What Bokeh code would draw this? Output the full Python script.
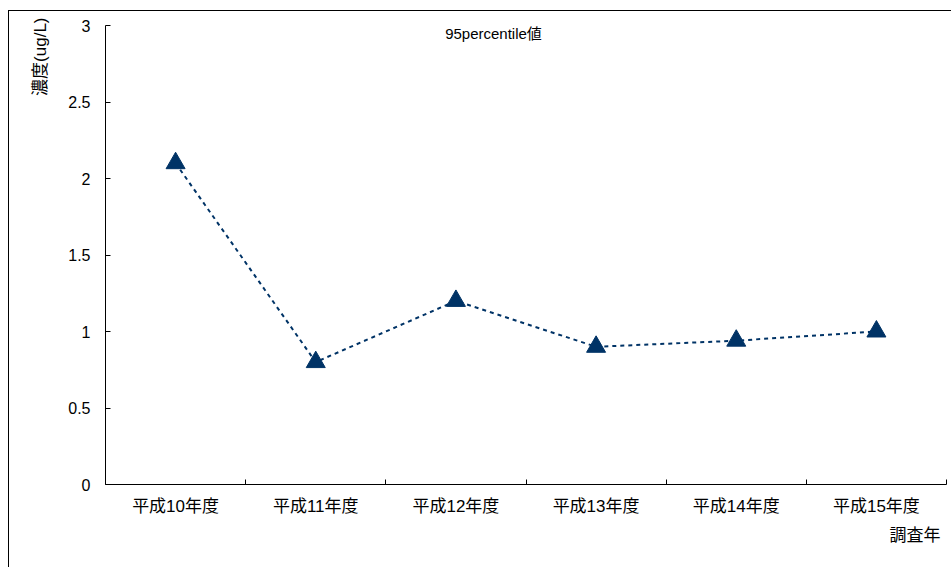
from bokeh.plotting import figure
from bokeh.models import Range1d, FixedTicker, Label, Title
from bokeh.embed import file_html
from bokeh.resources import INLINE

categories = ["平成10年度", "平成11年度", "平成12年度", "平成13年度", "平成14年度", "平成15年度"]
values = [2.1, 0.8, 1.2, 0.9, 0.94, 1.0]
y_ticks = [0, 0.5, 1, 1.5, 2, 2.5, 3]
y_tick_labels = ["0", "0.5", "1", "1.5", "2", "2.5", "3"]
title_text = "95percentile値"
y_label = "濃度(ug/L)"
x_label = "調査年"

COLOR = "#003366"
LAT = "'Liberation Sans', 'Noto Sans CJK JP'"

OX, OY = 9, 11  # outer frame offset (margin + border)
W, H = 952 - OX, 568 - OY
L, R, T, B = 105 - OX, 6, 25 - OY, 84

n = len(categories)
xs = [i + 0.5 for i in range(n)]

p = figure(width=W, height=H, output_backend="svg", toolbar_location=None,
           x_range=Range1d(0, n), y_range=Range1d(0, 3),
           min_border_left=L, min_border_right=R, min_border_top=T, min_border_bottom=B)
p.margin = (10, 0, 0, 8)
p.styles = {"border-top": "1px solid black", "border-left": "1px solid black"}
p.outline_line_color = None
p.xgrid.grid_line_color = None
p.ygrid.grid_line_color = None
p.background_fill_color = "white"
p.border_fill_color = "white"

# x axis: labels at category centres, ticks at boundaries
p.xaxis.ticker = FixedTicker(ticks=xs, minor_ticks=list(range(n + 1)))
p.xaxis.major_label_overrides = {x: c for x, c in zip(xs, categories)}
p.xaxis.major_tick_in = 0
p.xaxis.major_tick_out = 0
p.xaxis.minor_tick_in = 5
p.xaxis.minor_tick_out = 0
p.xaxis.minor_tick_line_color = "black"
p.xaxis.axis_line_color = "black"
p.xaxis.major_label_text_font = LAT
p.xaxis.major_label_text_font_size = "17px"
p.xaxis.major_label_text_color = "black"
p.xaxis.major_label_standoff = 12

p.yaxis.ticker = FixedTicker(ticks=y_ticks, minor_ticks=[])
p.yaxis.major_label_overrides = {t: s for t, s in zip(y_ticks, y_tick_labels)}
p.yaxis.major_tick_in = 5
p.yaxis.major_tick_out = 0
p.yaxis.major_tick_line_color = "black"
p.yaxis.axis_line_color = "black"
p.yaxis.major_label_text_font = LAT
p.yaxis.major_label_text_font_size = "16px"
p.yaxis.major_label_text_color = "black"
p.yaxis.major_label_standoff = 15

p.line(xs, values, line_color=COLOR, line_width=2, line_dash="4 4")
p.scatter(xs, values, marker="triangle", size=19, fill_color=COLOR, line_color=COLOR)

fw = W - L - R
fh = H - T - B
def dx(px):
    return (px - OX - L) / fw * n
def dy(py):
    return (H - B - (py - OY)) / fh * 3

p.add_layout(Label(x=dx(493), y=dy(33), text=title_text, text_align="center",
                   text_baseline="middle", text_font=LAT, text_font_size="15px",
                   text_color="black"))

p.add_layout(Title(text=y_label, align="right", text_font=LAT, text_font_size="17px",
                   text_font_style="normal", text_color="black", standoff=32, offset=-8), "left")
p.add_layout(Title(text=x_label, align="right", text_font=LAT, text_font_size="17px",
                   text_font_style="normal", text_color="black", standoff=11, offset=6), "below")

open("out.html", "w").write(file_html(p, INLINE))
